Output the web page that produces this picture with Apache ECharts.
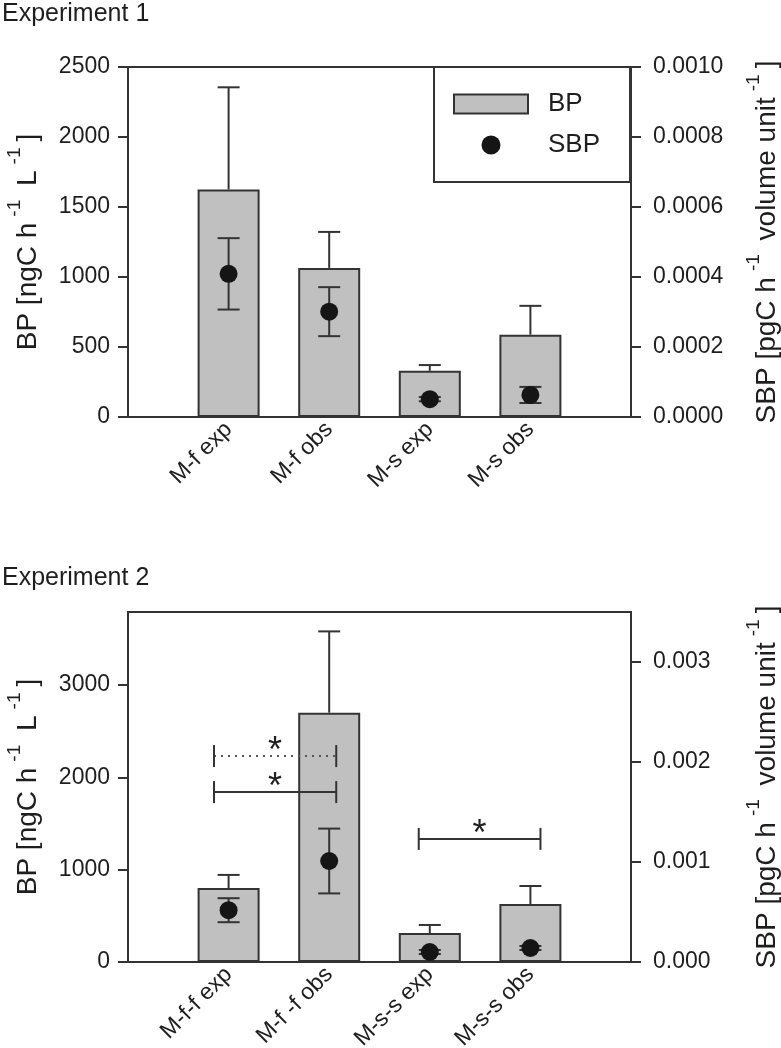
<!DOCTYPE html>
<html><head><meta charset="utf-8">
<script src="https://cdn.jsdelivr.net/npm/echarts@6/dist/echarts.min.js"></script>
<style>html,body{margin:0;padding:0;background:#fff}#c{width:781px;height:1048px}</style>
</head><body><div id="c"></div>
<script>
// ---------- Experiment 1 ----------
const cats1 = ['M-f exp', 'M-f obs', 'M-s exp', 'M-s obs'];
const bp1 = [1625, 1065, 330, 588];
const bp1Err = [730, 257, 41, 206];
const sbp1 = [0.000409, 0.000301, 0.000051, 0.000063];
const sbp1Err = [0.000102, 0.00007, 0.000006, 0.000023];
const ticks1Left = [0, 500, 1000, 1500, 2000, 2500];
const ticks1Right = [0, 0.0002, 0.0004, 0.0006, 0.0008, 0.0010];

// ---------- Experiment 2 ----------
const cats2 = ['M-f-f exp', 'M-f -f obs', 'M-s-s exp', 'M-s-s obs'];
const bp2 = [800, 2700, 314, 628];
const bp2Err = [143, 880, 87, 195];
const sbp2 = [0.000518, 0.00101, 0.0001, 0.00014];
const sbp2Err = [0.00012, 0.000324, 0.00002, 0.00002];
const ticks2Left = [0, 1000, 2000, 3000];
const ticks2Right = [0, 0.001, 0.002, 0.003];
// significance brackets: [x start, x end, y (BP units), dotted?]
const sig2 = [
  [0.855, 2.07, 2230, 1],
  [0.855, 2.07, 1840, 0],
  [2.89, 4.10, 1333, 0]
];

const FONT = '"Liberation Sans", Arial, Helvetica, sans-serif';
const INK = '#333333';
const TXT = '#1e1e1e';
const BARFILL = '#c0c0c0';

const chart = echarts.init(document.getElementById('c'), null, {renderer: 'canvas'});

function errSeries(xi, yi, vals, errs, upOnly, z) {
  return {
    type: 'custom', xAxisIndex: xi, yAxisIndex: yi, z: z, silent: true,
    encode: {x: 0, y: [1, 2]},
    data: vals.map((v, i) => [i + 1, upOnly ? v : v - errs[i], v + errs[i]]),
    renderItem: function (params, api) {
      const x = api.value(0);
      const lo = api.coord([x, api.value(1)]);
      const hi = api.coord([x, api.value(2)]);
      const h = 11;
      const st = {stroke: INK, lineWidth: 2};
      const ch = [
        {type: 'line', shape: {x1: lo[0], y1: lo[1], x2: hi[0], y2: hi[1]}, style: st},
        {type: 'line', shape: {x1: hi[0] - h, y1: hi[1], x2: hi[0] + h, y2: hi[1]}, style: st}
      ];
      if (!upOnly) ch.push({type: 'line', shape: {x1: lo[0] - h, y1: lo[1], x2: lo[0] + h, y2: lo[1]}, style: st});
      return {type: 'group', children: ch};
    }
  };
}

function bracketSeries(xi, yi, data) {
  return {
    type: 'custom', xAxisIndex: xi, yAxisIndex: yi, z: 8, silent: true,
    encode: {x: [0, 1], y: 2},
    data: data,
    renderItem: function (params, api) {
      const a = api.coord([api.value(0), api.value(2)]);
      const b = api.coord([api.value(1), api.value(2)]);
      const dotted = api.value(3) === 1;
      const h = 11;
      const st = {stroke: INK, lineWidth: 2};
      return {type: 'group', children: [
        {type: 'line', shape: {x1: a[0], y1: a[1], x2: b[0], y2: b[1]},
          style: dotted ? {stroke: '#555', lineWidth: 2, lineDash: [2, 5]} : st},
        {type: 'line', shape: {x1: a[0], y1: a[1] - h, x2: a[0], y2: a[1] + h}, style: st},
        {type: 'line', shape: {x1: b[0], y1: b[1] - h, x2: b[0], y2: b[1] + h}, style: st},
        {type: 'text', x: (a[0] + b[0]) / 2, y: a[1] - 4,
          style: {text: '*', fontSize: 36, fontFamily: FONT, fill: TXT, align: 'center', verticalAlign: 'middle'}}
      ]};
    }
  };
}

const nameStyle = {
  fontSize: 28, fontFamily: FONT, color: TXT,
  rich: {s: {fontSize: 19, fontFamily: FONT, color: TXT, padding: [0, 6, 28, 6]}}
};
const lblStyle = {fontSize: 23, fontFamily: FONT, color: TXT};

function yAxis(gi, pos, min, max, ticks, fmt, name, gap, margin) {
  return {
    type: 'value', gridIndex: gi, position: pos, min: min, max: max,
    interval: ticks[1] - ticks[0],
    axisLine: {show: true, lineStyle: {color: INK, width: 2}},
    axisTick: {show: true, length: 10, lineStyle: {color: INK, width: 2}, customValues: ticks},
    splitLine: {show: false},
    axisLabel: Object.assign({margin: margin, formatter: fmt, customValues: ticks, showMaxLabel: true}, lblStyle),
    name: name, nameLocation: 'middle', nameGap: gap, nameRotate: 90, nameTextStyle: nameStyle
  };
}

function xAxis(gi, cats) {
  return {
    type: 'value', gridIndex: gi, min: 0, max: 5, interval: 1,
    axisLine: {show: true, lineStyle: {color: INK, width: 2}},
    axisTick: {show: false}, splitLine: {show: false},
    axisLabel: Object.assign({rotate: 45, margin: 9,
      formatter: v => (cats[Math.round(v) - 1] || '')}, lblStyle, {fontSize: 23})
  };
}

const leftName = 'BP [ngC h{s|-1} L{s|-1}]';
const rightName = 'SBP [pgC h{s|-1} volume unit{s|-1}]';

const option = {
  animation: false,
  backgroundColor: '#fff',
  title: [
    {text: 'Experiment 1', left: 0, top: 0, padding: [2, 2, 2, 2],
      textStyle: {fontSize: 25, fontWeight: 'normal', fontFamily: FONT, color: TXT}},
    {text: 'Experiment 2', left: 0, top: 564, padding: [2, 2, 2, 2],
      textStyle: {fontSize: 25, fontWeight: 'normal', fontFamily: FONT, color: TXT}}
  ],
  grid: [
    {left: 128, right: 150, top: 67, height: 350, show: true, borderColor: INK, borderWidth: 2,
      backgroundColor: 'transparent', containLabel: false, outerBoundsMode: 'none'},
    {left: 128, right: 150, top: 612, height: 350, show: true, borderColor: INK, borderWidth: 2,
      backgroundColor: 'transparent', containLabel: false, outerBoundsMode: 'none'}
  ],
  legend: {
    left: 434, top: 67, orient: 'vertical', selectedMode: false,
    itemWidth: 74, itemHeight: 19, itemGap: 15,
    padding: [24, 30, 24, 19],
    borderColor: INK, borderWidth: 2, backgroundColor: '#fff',
    textStyle: {fontSize: 26, fontFamily: FONT, color: TXT, padding: [0, 0, 0, 15]},
    data: [{name: 'BP', icon: 'rect'}, {name: 'SBP', icon: 'circle'}]
  },
  xAxis: [xAxis(0, cats1), xAxis(1, cats2)],
  yAxis: [
    yAxis(0, 'left', 0, 2500, ticks1Left, v => String(v), leftName, 76, 18),
    yAxis(0, 'right', 0, 0.001, ticks1Right, v => v.toFixed(4), rightName, 113, 22),
    yAxis(1, 'left', 0, 3790, ticks2Left, v => String(v), leftName, 76, 18),
    yAxis(1, 'right', 0, 0.0035, ticks2Right, v => v.toFixed(3), rightName, 113, 22)
  ],
  series: [
    {name: 'BP', type: 'bar', xAxisIndex: 0, yAxisIndex: 0, barWidth: 62, z: 2,
      itemStyle: {color: BARFILL, borderColor: INK, borderWidth: 2},
      data: bp1.map((v, i) => [i + 1, v])},
    errSeries(0, 0, bp1, bp1Err, true, 3),
    errSeries(0, 1, sbp1, sbp1Err, false, 4),
    {name: 'SBP', type: 'scatter', xAxisIndex: 0, yAxisIndex: 1, symbol: 'circle', symbolSize: 18, z: 5,
      itemStyle: {color: '#151515', opacity: 1},
      data: sbp1.map((v, i) => [i + 1, v])},

    {name: 'BP2', type: 'bar', xAxisIndex: 1, yAxisIndex: 2, barWidth: 62, z: 2,
      itemStyle: {color: BARFILL, borderColor: INK, borderWidth: 2},
      data: bp2.map((v, i) => [i + 1, v])},
    errSeries(1, 2, bp2, bp2Err, true, 3),
    errSeries(1, 3, sbp2, sbp2Err, false, 4),
    {name: 'SBP2', type: 'scatter', xAxisIndex: 1, yAxisIndex: 3, symbol: 'circle', symbolSize: 18, z: 5,
      itemStyle: {color: '#151515', opacity: 1},
      data: sbp2.map((v, i) => [i + 1, v])},
    bracketSeries(1, 2, sig2)
  ]
};
chart.setOption(option);
</script>
</body></html>
